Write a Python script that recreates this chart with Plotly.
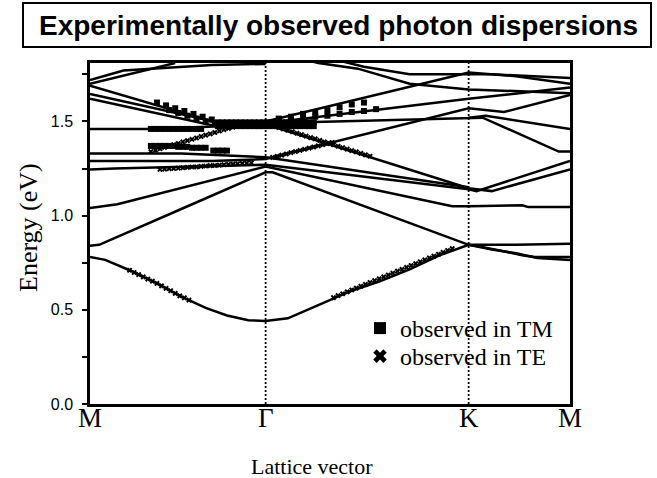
import plotly.graph_objects as go

# ---------------- data ----------------
# high-symmetry points along the path (hexagonal lattice)
kpt_pos = [0.0, 0.577, 1.244, 1.577]
kpt_lab = ["M", "Γ", "K", "M"]

y_ticks = [0.0, 0.5, 1.0, 1.5]
y_labels = ["0.0", "0.5", "1.0", "1.5"]
y_max = 1.81

# calculated photonic bands (k along path, energy in eV)
band01_k = [0, 0.05, 0.13, 0.22, 0.30, 0.38, 0.45, 0.52, 0.577, 0.65, 0.75, 0.85, 0.95, 1.05, 1.15, 1.244, 1.32, 1.40, 1.47, 1.577]
band01_e = [0.78, 0.765, 0.71, 0.64, 0.57, 0.51, 0.47, 0.445, 0.44, 0.455, 0.525, 0.595, 0.65, 0.715, 0.79, 0.845, 0.82, 0.80, 0.775, 0.765]

band02_k = [1.244, 1.30, 1.42, 1.46, 1.577]
band02_e = [0.845, 0.83, 0.79, 0.78, 0.78]

band03_k = [0, 0.03, 0.30, 0.577, 0.60, 0.90, 1.244, 1.40, 1.577]
band03_e = [0.84, 0.845, 1.035, 1.23, 1.23, 1.05, 0.845, 0.845, 0.85]

band04_k = [0, 0.09, 0.577, 1.19, 1.244, 1.42, 1.44, 1.577]
band04_e = [1.04, 1.06, 1.26, 1.05, 1.05, 1.055, 1.045, 1.045]

band05_k = [0, 0.08, 0.577, 1.244, 1.27, 1.577]
band05_e = [1.245, 1.25, 1.27, 1.14, 1.13, 1.29]

band06_k = [0, 0.40, 0.577, 1.244, 1.36, 1.577]
band06_e = [1.29, 1.29, 1.30, 1.57, 1.55, 1.64]

band07_k = [0, 0.20, 0.45, 0.577, 1.244, 1.32, 1.577]
band07_e = [1.46, 1.46, 1.475, 1.485, 1.145, 1.13, 1.245]

band08_k = [0, 0.40, 0.577, 1.244, 1.29, 1.54, 1.577]
band08_e = [1.62, 1.48, 1.49, 1.52, 1.52, 1.34, 1.34]

band09_k = [0, 0.45, 0.577, 1.244, 1.577]
band09_e = [1.645, 1.485, 1.49, 1.62, 1.68]

band10_k = [0, 0.42, 0.577, 1.244, 1.40, 1.577]
band10_e = [1.69, 1.49, 1.50, 1.76, 1.74, 1.70]

band11_k = [0, 0.30, 0.577, 1.244]
band11_e = [1.33, 1.33, 1.31, 1.15]

band12_k = [0, 0.28]
band12_e = [1.70, 1.81]

band13_k = [0, 0.11, 0.40, 0.577]
band13_e = [1.72, 1.77, 1.80, 1.805]

band14_k = [0.70, 0.75, 0.88, 1.05, 1.244, 1.577]
band14_e = [1.83, 1.81, 1.78, 1.70, 1.67, 1.65]

band15_k = [0.80, 0.90, 1.05, 1.244, 1.32, 1.577]
band15_e = [1.83, 1.79, 1.75, 1.75, 1.75, 1.73]

band16_k = [1.244, 1.30, 1.577]
band16_e = [1.52, 1.53, 1.46]

bands = [
    (band01_k, band01_e), (band02_k, band02_e), (band03_k, band03_e),
    (band04_k, band04_e), (band05_k, band05_e), (band06_k, band06_e),
    (band07_k, band07_e), (band08_k, band08_e), (band09_k, band09_e),
    (band10_k, band10_e), (band11_k, band11_e), (band12_k, band12_e),
    (band13_k, band13_e), (band14_k, band14_e), (band15_k, band15_e),
    (band16_k, band16_e),
]

# observed modes, TM polarisation (squares)
tm_k = [0.20, 0.215, 0.23, 0.245, 0.26, 0.275, 0.29, 0.305, 0.32, 0.335, 0.35, 0.365,
        0.20, 0.215, 0.23, 0.245, 0.26, 0.275, 0.29, 0.305, 0.32, 0.335, 0.35, 0.365, 0.38,
        0.405, 0.42, 0.435, 0.45,
        0.22, 0.25, 0.28, 0.31, 0.34, 0.37, 0.40,
        0.26, 0.29, 0.32, 0.35, 0.38, 0.41,
        0.42, 0.435, 0.45, 0.465, 0.48, 0.495, 0.51, 0.525, 0.54, 0.555, 0.57, 0.585, 0.60, 0.615, 0.63, 0.645, 0.66, 0.675, 0.69, 0.705, 0.72, 0.735,
        0.42, 0.435, 0.45, 0.465, 0.48, 0.495, 0.51, 0.525, 0.54, 0.555, 0.57, 0.585, 0.60, 0.615, 0.63, 0.645, 0.66, 0.675, 0.69, 0.705, 0.72, 0.735,
        0.62, 0.66, 0.70, 0.74, 0.78, 0.82, 0.86, 0.90, 0.94,
        0.62, 0.66, 0.70, 0.74, 0.78, 0.82, 0.86, 0.90]
tm_e = [1.46, 1.46, 1.46, 1.46, 1.46, 1.46, 1.46, 1.46, 1.46, 1.46, 1.46, 1.46,
        1.37, 1.37, 1.37, 1.37, 1.37, 1.37, 1.365, 1.365, 1.365, 1.36, 1.36, 1.36, 1.36,
        1.345, 1.345, 1.345, 1.345,
        1.60, 1.585, 1.57, 1.555, 1.54, 1.525, 1.51,
        1.56, 1.545, 1.53, 1.515, 1.50, 1.49,
        1.475, 1.475, 1.475, 1.475, 1.475, 1.475, 1.475, 1.475, 1.475, 1.475, 1.475, 1.475, 1.475, 1.475, 1.475, 1.475, 1.475, 1.475, 1.475, 1.475, 1.475, 1.475,
        1.495, 1.495, 1.495, 1.495, 1.495, 1.495, 1.495, 1.495, 1.495, 1.495, 1.495, 1.495, 1.495, 1.495, 1.495, 1.495, 1.495, 1.495, 1.495, 1.495, 1.495, 1.495,
        1.50, 1.51, 1.515, 1.525, 1.53, 1.54, 1.55, 1.555, 1.565,
        1.515, 1.525, 1.54, 1.55, 1.56, 1.575, 1.59, 1.60]

# observed modes, TE polarisation (crosses)
te_k = [0.13, 0.145, 0.16, 0.175, 0.19, 0.205, 0.22, 0.235, 0.25, 0.265, 0.28, 0.295, 0.31, 0.325,
        0.80, 0.815, 0.83, 0.845, 0.86, 0.875, 0.89, 0.905, 0.92, 0.935, 0.95, 0.965, 0.98, 0.995,
        1.01, 1.025, 1.04, 1.055, 1.07, 1.085, 1.10, 1.115, 1.13, 1.145, 1.16, 1.175, 1.19,
        0.20, 0.215, 0.23, 0.245, 0.26, 0.275, 0.29, 0.305, 0.32, 0.335, 0.35, 0.365, 0.38, 0.395,
        0.41, 0.425, 0.44, 0.455, 0.47, 0.485,
        0.23, 0.245, 0.26, 0.275, 0.29, 0.305, 0.32, 0.335, 0.35, 0.365, 0.38, 0.395, 0.41, 0.425,
        0.44, 0.455, 0.47, 0.485, 0.50, 0.515, 0.53,
        0.62, 0.635, 0.65, 0.665, 0.68, 0.695, 0.71, 0.725, 0.74, 0.755, 0.77, 0.785, 0.80, 0.815,
        0.83, 0.845, 0.86, 0.875, 0.89, 0.905, 0.92,
        0.60, 0.615, 0.63, 0.645, 0.66, 0.675, 0.69, 0.705, 0.72, 0.735, 0.75, 0.765, 0.78, 0.795]
te_e = [0.71, 0.698, 0.687, 0.675, 0.663, 0.652, 0.64, 0.627, 0.614, 0.601, 0.587, 0.574, 0.563, 0.551,
        0.565, 0.575, 0.585, 0.595, 0.605, 0.615, 0.625, 0.635, 0.645, 0.655, 0.665, 0.675, 0.685, 0.695,
        0.705, 0.715, 0.725, 0.735, 0.745, 0.755, 0.765, 0.775, 0.785, 0.795, 0.805, 0.815, 0.825,
        1.340, 1.347, 1.355, 1.362, 1.369, 1.376, 1.383, 1.391, 1.398, 1.405, 1.412, 1.420, 1.427, 1.434,
        1.441, 1.449, 1.456, 1.463, 1.470, 1.478,
        1.245, 1.247, 1.249, 1.250, 1.252, 1.254, 1.256, 1.258, 1.259, 1.261, 1.263, 1.265, 1.266, 1.268,
        1.270, 1.272, 1.273, 1.275, 1.277, 1.279, 1.280,
        1.468, 1.460, 1.453, 1.445, 1.437, 1.430, 1.422, 1.414, 1.407, 1.399, 1.391, 1.384, 1.376, 1.368,
        1.361, 1.353, 1.345, 1.338, 1.330, 1.322, 1.315,
        1.309, 1.315, 1.321, 1.327, 1.334, 1.340, 1.346, 1.352, 1.358, 1.364, 1.370, 1.376, 1.382, 1.388]

# ---------------- figure ----------------
fig = go.Figure()

for bk, be in bands:
    fig.add_trace(go.Scatter(x=bk, y=be, mode="lines",
                             line=dict(color="black", width=2.5),
                             showlegend=False, hoverinfo="skip"))

fig.add_trace(go.Scatter(x=tm_k, y=tm_e, mode="markers", name="observed in TM",
                         legend="legend",
                         marker=dict(symbol="square", size=6, color="black")))
fig.add_trace(go.Scatter(x=te_k, y=te_e, mode="markers", name="observed in TE",
                         legend="legend2",
                         marker=dict(symbol="x", size=5, color="black")))

for kx in kpt_pos[1:3]:
    fig.add_vline(x=kx, line=dict(color="black", width=1.8, dash="2px,2px"))

serif = "Liberation Serif, Times New Roman, serif"
sans = "Liberation Sans, Arial, sans-serif"

leg_common = dict(xanchor="left", yanchor="top", bgcolor="rgba(0,0,0,0)",
                  itemsizing="constant", font=dict(family=serif, size=24, color="black"))

fig.update_layout(
    width=657, height=478,
    margin=dict(l=90, r=87, t=63, b=74),
    paper_bgcolor="white", plot_bgcolor="white",
    xaxis=dict(range=[kpt_pos[0], kpt_pos[-1]], tickvals=kpt_pos, showticklabels=False,
               showline=True, mirror=True, linecolor="black", linewidth=2.5,
               showgrid=False, zeroline=False, ticks=""),
    yaxis=dict(range=[0, y_max], tickvals=y_ticks, ticktext=y_labels,
               showline=True, mirror=True, linecolor="black", linewidth=2.5,
               showgrid=False, zeroline=False, ticks="outside", ticklen=5,
               tickwidth=1.5, tickcolor="black", ticklabelstandoff=6,
               minor=dict(dtick=0.25, ticks="outside", ticklen=5, tickwidth=1.5, tickcolor="black"),
               tickfont=dict(family=sans, size=16, color="black")),
    legend=dict(x=(360 - 90) / 480, y=(404 - 306) / 341, **leg_common),
    legend2=dict(x=(360 - 90) / 480, y=(404 - 334) / 341, **leg_common),
    showlegend=True,
)

# k-point labels under the axis
for kx, lab in zip(kpt_pos, kpt_lab):
    fig.add_annotation(text=lab, x=kx, xref="x", yref="paper", y=(404 - 418) / 341,
                       xanchor="center", yanchor="middle", showarrow=False,
                       font=dict(family=serif, size=27, color="black"))

# axis captions
fig.add_annotation(text="Lattice vector", xref="paper", yref="paper",
                   x=(312 - 90) / 480, y=(404 - 466) / 341, xanchor="center", yanchor="middle",
                   showarrow=False, font=dict(family=serif, size=22, color="black"))
fig.add_annotation(text="Energy (eV)", xref="paper", yref="paper", textangle=-90,
                   x=(28 - 90) / 480, y=(404 - 227) / 341, xanchor="center", yanchor="middle",
                   showarrow=False, font=dict(family=serif, size=26, color="black"))

# boxed title
fig.add_shape(type="rect", xref="paper", yref="paper",
              x0=(23 - 90) / 480, x1=(651 - 90) / 480,
              y0=(404 - 47) / 341, y1=(404 - 3) / 341,
              line=dict(color="black", width=2))
fig.add_annotation(text="<b>Experimentally observed photon dispersions</b>",
                   xref="paper", yref="paper", x=(338 - 90) / 480, y=(404 - 25) / 341,
                   xanchor="center", yanchor="middle",
                   showarrow=False, font=dict(family=sans, size=28, color="black"))

fig.write_html("out.html")
